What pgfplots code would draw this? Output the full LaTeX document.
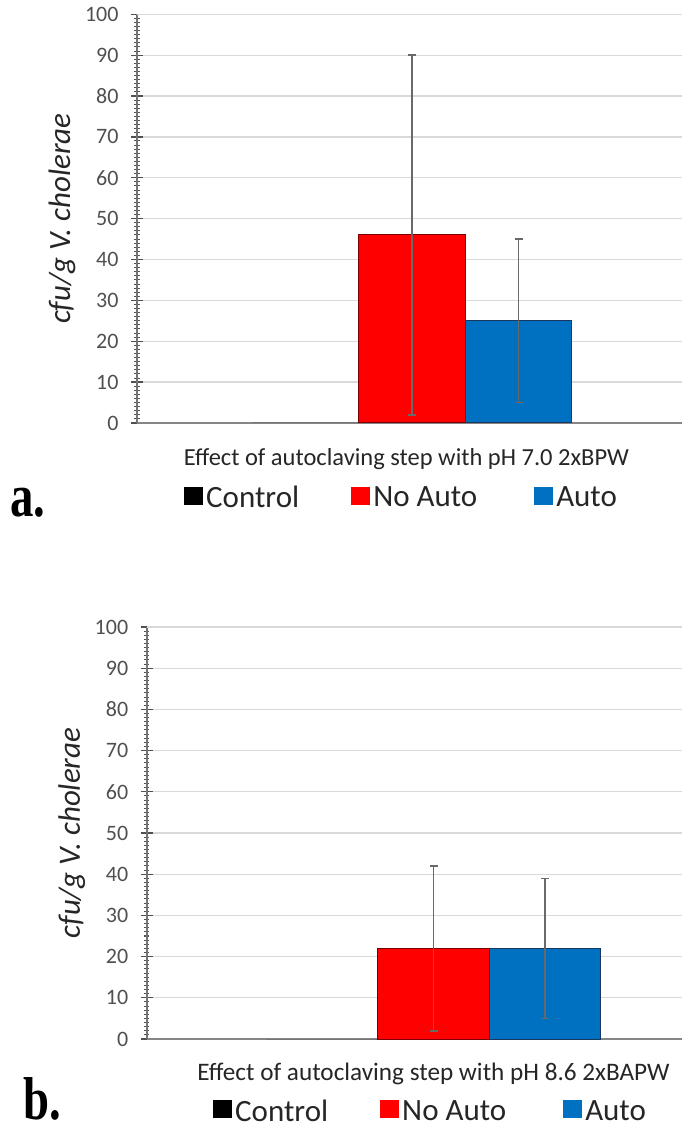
\documentclass[border=0pt]{standalone}
\usepackage{pgfplots}
\pgfplotsset{compat=1.18}
\usepackage{fontspec}
\setmainfont{Carlito}
\newfontfamily\panelfont{Liberation Serif}
\definecolor{cred}{RGB}{255,0,0}
\definecolor{cblue}{RGB}{0,112,192}
\definecolor{credline}{RGB}{120,0,0}
\definecolor{cblueline}{RGB}{25,55,95}
\definecolor{axgray}{RGB}{134,134,134}
\definecolor{gridgray}{RGB}{217,217,217}
\definecolor{tickgray}{RGB}{80,80,80}
\definecolor{errgray}{RGB}{105,105,105}
\definecolor{txt}{RGB}{38,38,38}

\pgfplotsset{
  sqlegend/.style={legend image code/.code={\fill[##1,draw=none] (0pt,-7pt) rectangle (19pt,11pt);}},
  panel/.style={
    scale only axis,
    anchor=south west,
    clip=false,
    ymin=0, ymax=100,
    ytick={0,10,...,100},
    minor y tick num=9,
    xtick=\empty,
    axis x line=bottom, axis y line=left,
    x axis line style={axgray, line width=2.6pt, -},
    y axis line style={tickgray!80, line width=1.8pt, -},
    ymajorgrids, major grid style={gridgray, line width=1.3pt},
    extra y ticks={100}, extra y tick labels={},
    extra y tick style={grid style={axgray, line width=2.6pt}, major tick length=0pt},
    tick align=center,
    major tick length=12pt, minor tick length=5pt,
    every tick/.style={tickgray, line width=1.3pt},
    minor tick style={tickgray, line width=1pt},
    yticklabel style={font=\fontsize{22}{26}\selectfont, text=tickgray, xshift=-9pt},
    /pgf/number format/assume math mode=true,
    ylabel={\itshape cfu/g V. cholerae},
    ylabel style={font=\fontsize{31}{36}\selectfont, text=txt, anchor=base},
    xlabel style={font=\fontsize{24.5}{28}\selectfont, text=txt, anchor=base},
    ybar, bar width=1,
    error bars/y dir=both, error bars/y explicit,
    error bars/error bar style={errgray, line width=1.5pt},
    error bars/error mark options={errgray, mark size=4pt, line width=1.5pt, rotate=90},
    legend columns=3,
    legend style={draw=none, fill=none, font=\fontsize{31}{36}\selectfont, text=txt,
      anchor=north west, inner sep=0pt,
      nodes={inner xsep=3pt, inner ysep=0pt},
      /tikz/column 2/.style={column sep=49pt},
      /tikz/column 4/.style={column sep=54pt}},
  },
}

\begin{document}
\begin{tikzpicture}[x=1pt,y=1pt]
\useasboundingbox (0,0) rectangle (681,1128);

% ---------------- panel a ----------------
\begin{axis}[panel,
  at={(137pt,705pt)}, width=550pt, height=408.7pt,
  xmin=-2.58, xmax=2.58,
  xlabel={Effect of autoclaving step with pH 7.0 2xBPW},
  xlabel style={at={(axis description cs:0.49,-0.1028)}},
  ylabel style={at={(axis description cs:-0.1218,0.5)}},
  legend style={at={(axis description cs:0.0855,-0.1537)}},
]
\addplot[fill=black, draw=none, bar shift=0pt, sqlegend] coordinates {(-1,0)};
\addplot[fill=cred, draw=credline, line width=1pt, bar shift=0pt, sqlegend] coordinates {(0,46) +- (0,44)};
\addplot[fill=cblue, draw=cblueline, line width=1pt, bar shift=0pt, sqlegend] coordinates {(1,25) +- (0,20)};
\legend{Control, No Auto, Auto}
\end{axis}

% ---------------- panel b ----------------
\begin{axis}[panel,
  at={(146.7pt,89pt)}, width=573.6pt, height=412pt,
  xmin=-2.572, xmax=2.572,
  xlabel={Effect of autoclaving step with pH 8.6 2xBAPW},
  xlabel style={font=\fontsize{25.2}{29}\selectfont, at={(axis description cs:0.5,-0.101)}},
  ylabel style={at={(axis description cs:-0.1163,0.5)}},
  legend style={at={(axis description cs:0.1156,-0.1467)}},
]
\addplot[fill=black, draw=none, bar shift=0pt, sqlegend] coordinates {(-1,0)};
\addplot[fill=cred, draw=credline, line width=1pt, bar shift=0pt, sqlegend] coordinates {(0,22) +- (0,20)};
\addplot[fill=cblue, draw=cblueline, line width=1pt, bar shift=0pt, sqlegend] coordinates {(1,22) +- (0,17)};
\legend{Control, No Auto, Auto}
\end{axis}

\node[anchor=base west, inner sep=0pt] at (10,611) {\panelfont\bfseries\fontsize{55}{60}\selectfont\scalebox{0.85}[1.1]{a.}};
\node[anchor=base west, inner sep=0pt] at (23,9) {\panelfont\bfseries\fontsize{55}{60}\selectfont\scalebox{0.85}[1.1]{b.}};
\end{tikzpicture}
\end{document}
